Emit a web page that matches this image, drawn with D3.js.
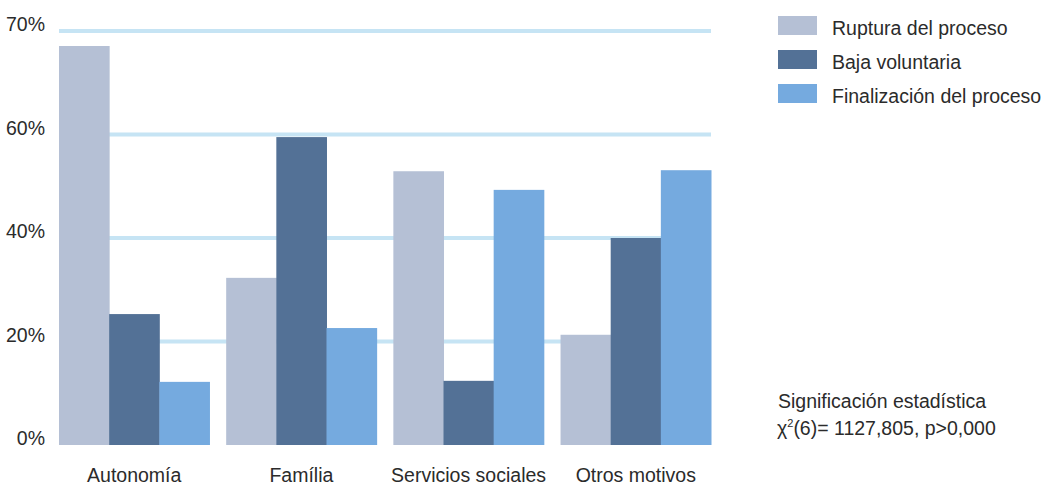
<!DOCTYPE html>
<html><head><meta charset="utf-8">
<script src="https://cdn.jsdelivr.net/npm/d3@7/dist/d3.min.js"></script>
<style>body{margin:0;background:#fff}svg{display:block}text{font-family:"Liberation Sans",Arial,sans-serif;fill:#2b2b2b}</style>
</head><body><svg id="c" width="1045" height="486"></svg>
<script>
const categories = ["Autonomía", "Família", "Servicios sociales", "Otros motivos"];
const seriesNames = ["Ruptura del proceso", "Baja voluntaria", "Finalización del proceso"];
const ruptura = [77.1, 32.3, 52.9, 21.3];
const baja = [25.3, 59.5, 12.4, 40.0];
const finalizacion = [12.2, 22.6, 49.3, 53.1];
const tickValues = [0, 20, 40, 60, 80];
const tickLabels = ["0%", "20%", "40%", "60%", "70%"];
const colors = ["#b5c0d5", "#537196", "#75aadf"];

const FS = 19.5;
const series = [ruptura, baja, finalizacion];
const svg = d3.select("#c");
const y = d3.scaleLinear().domain([0, 80]).range([445, 31]);
const x = d3.scaleBand().domain(categories).range([59, 711]).paddingInner(0.1).paddingOuter(0);
const xs = d3.scaleBand().domain(d3.range(series.length)).range([0, x.bandwidth()]);

// gridlines
svg.append("g").selectAll("line").data(tickValues.filter(v => v > 0)).join("line")
  .attr("x1", 59).attr("x2", 711).attr("y1", d => y(d)).attr("y2", d => y(d))
  .attr("stroke", "#c6e4f4").attr("stroke-width", 4);

// y labels
svg.append("g").selectAll("text").data(tickValues).join("text")
  .attr("x", 45).attr("y", d => y(d)).attr("text-anchor", "end")
  .attr("font-size", FS).text((d, i) => tickLabels[i]);

// bars
const g = svg.append("g");
categories.forEach((c, ci) => {
  series.forEach((s, si) => {
    g.append("rect")
      .attr("x", x(c) + xs(si)).attr("width", xs.bandwidth() + 0.5)
      .attr("y", y(s[ci])).attr("height", y(0) - y(s[ci]))
      .attr("fill", colors[si]);
  });
});

// category labels
svg.append("g").selectAll("text").data(categories).join("text")
  .attr("x", d => x(d) + x.bandwidth() / 2).attr("y", 482)
  .attr("text-anchor", "middle").attr("font-size", FS).text(d => d);

// legend
const lg = svg.append("g");
seriesNames.forEach((n, i) => {
  lg.append("rect").attr("x", 778).attr("y", 16 + i * 34).attr("width", 39).attr("height", 19).attr("fill", colors[i]);
  lg.append("text").attr("x", 832).attr("y", 35 + i * 34).attr("font-size", FS).text(n);
});

// stats note
svg.append("text").attr("x", 778).attr("y", 408).attr("font-size", FS).text("Significación estadística");
const t = svg.append("text").attr("x", 777).attr("y", 435).attr("font-size", FS);
t.append("tspan").text("χ");
t.append("tspan").attr("font-size", 11).attr("dy", -8).text("2");
t.append("tspan").attr("dy", 8).text("(6)= 1127,805, p>0,000");
</script></body></html>
